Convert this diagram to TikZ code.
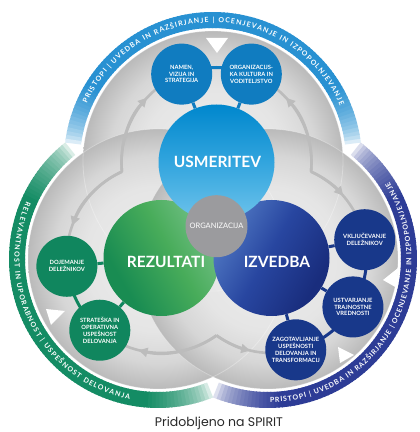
\documentclass[tikz,border=0pt]{standalone}
\usepackage{fontspec}
\setmainfont{Lato}
\newfontfamily\capfont{Poppins}
\usetikzlibrary{decorations.text,arrows.meta}

\definecolor{bandT}{RGB}{40,145,210}
\definecolor{bandL}{RGB}{20,140,100}
\definecolor{bandR}{RGB}{45,60,150}
\definecolor{smT}{RGB}{16,124,192}
\definecolor{smL}{RGB}{16,134,94}
\definecolor{smR}{RGB}{24,56,138}
\definecolor{arrowgray}{RGB}{188,188,188}
\definecolor{orggray}{RGB}{155,155,158}
\definecolor{g0}{RGB}{238,238,238}
\definecolor{g1}{RGB}{229,229,229}
\definecolor{g2}{RGB}{214,214,214}
\definecolor{g3}{RGB}{186,186,186}
\definecolor{usm1}{RGB}{0,135,205}
\definecolor{usm2}{RGB}{50,165,222}
\definecolor{usm3}{RGB}{110,195,235}
\definecolor{rz1}{RGB}{25,140,82}
\definecolor{rz2}{RGB}{72,172,90}
\definecolor{rz3}{RGB}{115,192,135}
\definecolor{iz1}{RGB}{80,120,195}
\definecolor{iz2}{RGB}{40,70,160}
\definecolor{iz3}{RGB}{25,45,125}
\definecolor{captxt}{RGB}{40,40,40}

\pgfdeclareradialshading{lobesh}{\pgfpoint{0bp}{0bp}}{color(0bp)=(g0); color(14bp)=(g1); color(20bp)=(g2); color(25bp)=(g3); color(50bp)=(g3)}
\pgfdeclarehorizontalshading{rezsh}{100bp}{color(0bp)=(rz1); color(30bp)=(rz1); color(55bp)=(rz2); color(75bp)=(rz3); color(100bp)=(rz3)}
\pgfdeclarehorizontalshading{izvsh}{100bp}{color(0bp)=(iz1); color(25bp)=(iz1); color(48bp)=(iz2); color(72bp)=(iz3); color(100bp)=(iz3)}
\pgfdeclareverticalshading{usmsh}{100bp}{color(0bp)=(usm3); color(25bp)=(usm3); color(50bp)=(usm2); color(75bp)=(usm1); color(100bp)=(usm1)}

\newcommand{\smtxt}{\fontsize{5.8}{6.8}\selectfont\bfseries}
\newcommand{\bigtxt}{\fontsize{15.5}{17}\selectfont\bfseries}
\newcommand{\orgtxt}{\fontsize{7.5}{9}\selectfont}
\newcommand{\bandtxt}{\fontsize{7}{8.5}\selectfont\bfseries}

\newcommand{\drawband}[5]{%
  \pgfmathsetmacro{\bspan}{#3-(#2)}%
  \pgfmathtruncatemacro{\nseg}{\bspan/1.5}%
  \pgfmathsetmacro{\bstep}{\bspan/\nseg}%
  \foreach \nn in {1,...,\nseg}{%
    \pgfmathsetmacro{\angA}{#2+(\nn-1)*\bstep}%
    \pgfmathsetmacro{\angB}{min(#3,#2+\nn*\bstep+0.5)}%
    \pgfmathsetmacro{\dd}{min(\angA-(#2)+0.75,(#3)-\angA-0.75)}%
    \pgfmathtruncatemacro{\pc}{100*sqrt(min(1,max(0.01,\dd)/#5))}%
    \fill[#4!\pc!white] ([shift={(\angA:133)}]#1) arc[start angle=\angA, end angle=\angB, radius=133] -- ([shift={(\angB:149)}]#1) arc[start angle=\angB, end angle=\angA, radius=149] -- cycle;
  }%
}
\newcommand{\trackarc}[4]{%
  \draw[track] ([shift={(#2:95)}]#1) arc[start angle=#2, end angle=#3, radius=95];
  \draw[trackarrow] ([shift={(#2:95)}]#1) arc[start angle=#2, end angle=#4, radius=95];
}

\tikzset{
  smallc/.style={circle, minimum size=61, inner sep=0pt, text=white, align=center, font=\smtxt},
  bigc/.style={circle, minimum size=116, inner sep=0pt, shade},
  track/.style={draw=arrowgray, line width=2.6},
  trackarrow/.style={track, -{Triangle[length=9pt,width=9pt]}},
  link/.style={line width=3},
  bigtext/.style={text=white, font=\bigtxt, inner sep=0pt},
  bandlabel/.style={decorate, decoration={text along path, text format delimiters={[}{]}, text color=white, text align=fit to path, text={#1}}}
}

\begin{document}
\begin{tikzpicture}[x=1pt,y=1pt]
\useasboundingbox (0,0) rectangle (420,432);
\fill[white] (0,0) rectangle (420,432);

\coordinate (To) at (213,271);
\coordinate (Lo) at (158,173);
\coordinate (Ro) at (268,173);
\coordinate (Tc) at (216.5,269.5);
\coordinate (Lc) at (161.5,174);
\coordinate (Rc) at (271.5,174);
\coordinate (O) at (216.5,205.8);

% coloured bands
\drawband{To}{7.1}{172.9}{bandT}{24}
\drawband{Lo}{128.5}{291.7}{bandL}{26}
\drawband{Ro}{248.3}{411.5}{bandR}{26}

% grey lobes
\foreach \lc in {To,Lo,Ro}{\shade[shading=lobesh] (\lc) circle (130);}
\foreach \lc in {To,Lo,Ro}{\draw[white,opacity=0.3,line width=0.8] (\lc) circle (130);}

% grey tracks with arrows
\trackarc{Tc}{185.5}{111.5}{137}
\trackarc{Tc}{-5.5}{68.5}{43}
\trackarc{Lc}{114.6}{185}{160}
\trackarc{Lc}{305.4}{229.5}{256}
\trackarc{Rc}{65.4}{11.1}{41}
\trackarc{Rc}{234.6}{284.8}{257}

% white triangles
\fill[white] (206,394) -- (228,394) -- (217,379) -- cycle;
\fill[white] (46,123) -- (65,121) -- (51,107) -- cycle;
\fill[white] (398,164) -- (397,144) -- (383,152) -- cycle;
\fill[white] (338,85) -- (340,69) -- (354,77) -- cycle;

% big circles
\node[bigc, shading=rezsh, shading angle=30] (rez) at (Lc) {};
\node[bigc, shading=izvsh, shading angle=-30] (izv) at (Rc) {};
\node[bigc, shading=usmsh] (usm) at (Tc) {};
\node[circle, minimum size=62, inner sep=0pt, fill=orggray, text=white, font=\orgtxt] (org) at (O) {ORGANIZACIJA};
\node[bigtext] (usmT) at (217.5,270) {USMERITEV};
\node[bigtext] (rezT) at (166,170) {REZULTATI};
\node[bigtext] (izvT) at (277,170) {IZVEDBA};

% small circles
\node[smallc, fill=smT] (namen) at ([shift={(111.5:95)}]Tc) {NAMEN,\\VIZIJA IN\\STRATEGIJA};
\node[smallc, fill=smT] (orgk) at ([shift={(68.5:95)}]Tc) {ORGANIZACIJS-\\KA KULTURA IN\\VODITELJSTVO};
\node[smallc, fill=smL] (doj) at ([shift={(185:95)}]Lc) {DOJEMANJE\\DELEŽNIKOV};
\node[smallc, fill=smL] (strat) at ([shift={(229.5:95)}]Lc) {STRATEŠKA IN\\OPERATIVNA\\USPEŠNOST\\DELOVANJA};
\node[smallc, fill=smR] (vklj) at ([shift={(11.1:95)}]Rc) {VKLJUČEVANJE\\DELEŽNIKOV};
\node[smallc, fill=smR] (ustv) at ([shift={(-31:95)}]Rc) {USTVARJANJE\\TRAJNOSTNE\\VREDNOSTI};
\node[smallc, fill=smR] (zagot) at ([shift={(284.8:95)}]Rc) {ZAGOTAVLJANJE\\USPEŠNOSTI\\DELOVANJA IN\\TRANSFORMACIJ};

% links
\draw[link, smT] (usm) -- (namen);
\draw[link, smT] (usm) -- (orgk);
\draw[link, smL] (rez) -- (doj);
\draw[link, smL] (rez) -- (strat);
\draw[link, smR] (izv) -- (vklj);
\draw[link, smR] (izv) -- (ustv);
\draw[link, smR] (izv) -- (zagot);
\draw[link, smT] ([shift={(86:95)}]Tc) arc[start angle=86, end angle=94, radius=95];
\draw[link, smL] ([shift={(202:95)}]Lc) arc[start angle=202, end angle=212.5, radius=95];
\draw[link, smR] ([shift={(-14:95)}]Rc) arc[start angle=-14, end angle=-6, radius=95];
\draw[link, smR] ([shift={(302:95)}]Rc) arc[start angle=302, end angle=312, radius=95];

% band texts
\path[bandlabel={[\bandtxt]PRISTOPI | UVEDBA IN RAZŠIRJANJE | OCENJEVANJE IN IZPOPOLNJEVANJE}] ([shift={(155.6:138.5)}]To) arc[start angle=155.6, end angle=23.4, radius=138.5];
\path[bandlabel={[\bandtxt]RELEVANTNOST IN UPORABNOST | USPEŠNOST DELOVANJA}] ([shift={(156.5:143.5)}]Lo) arc[start angle=156.5, end angle=258.6, radius=143.5];
\path[bandlabel={[\bandtxt]PRISTOPI | UVEDBA IN RAZŠIRJANJE | OCENJEVANJE IN IZPOPOLNJEVANJE}] ([shift={(270.8:143.5)}]Ro) arc[start angle=270.8, end angle=392.3, radius=143.5];

% caption
\node[font=\capfont\fontsize{12.5}{14}\selectfont, text=captxt] (cap) at (219,9) {Pridobljeno na SPIRIT};
\end{tikzpicture}
\end{document}
